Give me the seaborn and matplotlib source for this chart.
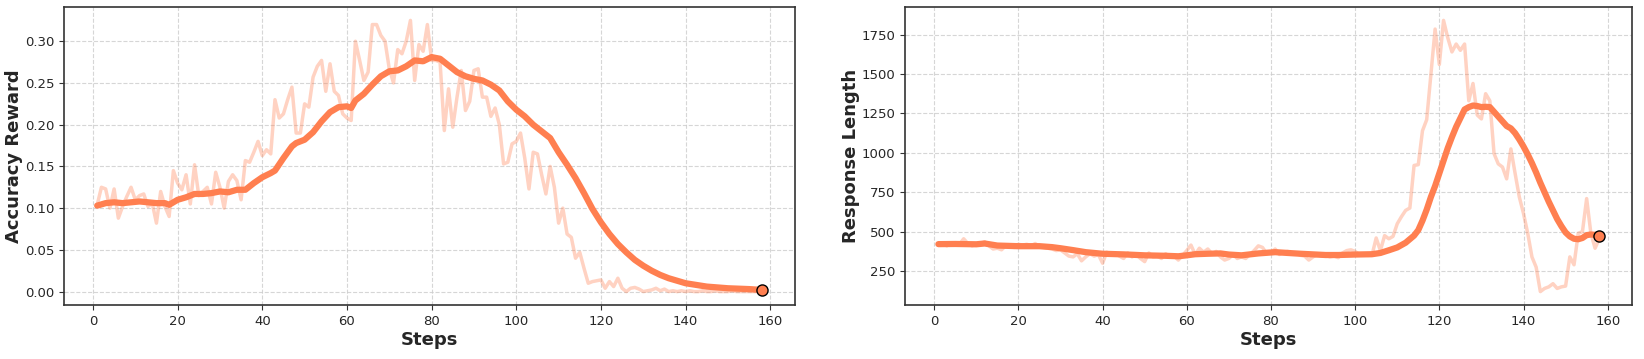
import matplotlib
matplotlib.use("Agg")
import matplotlib.pyplot as plt
import seaborn as sns
import pandas as pd

# training steps shown in both panels
steps = list(range(1, 159))

# accuracy reward: raw values per step
acc_raw = [
    0.104, 0.125, 0.123, 0.100, 0.123, 0.088, 0.102, 0.114, 0.125, 0.110,
    0.115, 0.117, 0.102, 0.106, 0.082, 0.120, 0.102, 0.090, 0.145, 0.130,
    0.122, 0.140, 0.105, 0.152, 0.115, 0.120, 0.125, 0.105, 0.143, 0.125,
    0.100, 0.132, 0.140, 0.133, 0.110, 0.157, 0.155, 0.167, 0.180, 0.163,
    0.170, 0.165, 0.230, 0.208, 0.213, 0.230, 0.245, 0.190, 0.190, 0.225,
    0.221, 0.257, 0.270, 0.277, 0.240, 0.273, 0.240, 0.235, 0.213, 0.208,
    0.205, 0.300, 0.277, 0.253, 0.263, 0.320, 0.320, 0.307, 0.300, 0.267,
    0.250, 0.290, 0.285, 0.300, 0.325, 0.253, 0.296, 0.288, 0.320, 0.277,
    0.277, 0.275, 0.193, 0.243, 0.197, 0.233, 0.265, 0.217, 0.228, 0.265,
    0.267, 0.233, 0.233, 0.210, 0.220, 0.200, 0.153, 0.155, 0.177, 0.180,
    0.190, 0.160, 0.123, 0.167, 0.165, 0.140, 0.117, 0.150, 0.125, 0.082,
    0.100, 0.069, 0.065, 0.040, 0.047, 0.028, 0.010, 0.012, 0.013, 0.014,
    0.004, 0.012, 0.006, 0.016, 0.004, 0.000, 0.004, 0.005, 0.003, 0.000,
    0.001, 0.002, 0.004, 0.001, 0.003, 0.000, 0.001, 0.000, 0.001, 0.000,
    0.001, 0.000, 0.000, 0.001, 0.000, 0.000, 0.001, 0.000, 0.000, 0.000,
    0.001, 0.000, 0.000, 0.000, 0.000, 0.000, 0.000, 0.000,
]

# accuracy reward: smoothed curve, read at these steps
acc_smooth_steps = [
    1, 3, 5, 7, 9, 11, 13, 15, 17, 18, 20, 22, 24, 26, 28, 30, 32, 34, 36, 38,
    40, 42, 43, 45, 47, 48, 50, 52, 54, 56, 58, 60, 61, 62, 64, 66, 68, 70, 72,
    74, 76, 78, 80, 82, 84, 86, 88, 90, 92, 94, 96, 98, 100, 102, 104, 106, 108,
    110, 112, 114, 116, 118, 120, 122, 124, 126, 128, 130, 132, 134, 136, 138,
    140, 145, 150, 155, 158,
]
acc_smooth = [
    0.103, 0.106, 0.107, 0.106, 0.107, 0.108, 0.107, 0.106, 0.106, 0.104,
    0.110, 0.113, 0.117, 0.117, 0.118, 0.120, 0.119, 0.122, 0.122, 0.130,
    0.137, 0.142, 0.145, 0.160, 0.174, 0.178, 0.182, 0.191, 0.204, 0.215,
    0.221, 0.222, 0.220, 0.229, 0.237, 0.248, 0.258, 0.264, 0.265, 0.270,
    0.277, 0.276, 0.281, 0.279, 0.271, 0.263, 0.258, 0.255, 0.253, 0.248,
    0.241, 0.228, 0.218, 0.210, 0.200, 0.192, 0.184, 0.167, 0.152, 0.136,
    0.118, 0.099, 0.083, 0.069, 0.057, 0.047, 0.038, 0.031, 0.025, 0.020,
    0.016, 0.013, 0.010, 0.006, 0.004, 0.003, 0.002,
]

# response length: raw values per step
len_raw = [
    420, 425, 410, 430, 415, 420, 455, 425, 410, 420,
    425, 435, 410, 390, 395, 385, 410, 405, 400, 420,
    415, 420, 410, 425, 405, 400, 395, 390, 380, 385,
    365, 345, 340, 360, 315, 340, 360, 345, 355, 300,
    370, 350, 365, 345, 330, 365, 340, 355, 330, 310,
    365, 340, 345, 330, 360, 340, 345, 320, 350, 380,
    415, 355, 395, 370, 390, 360, 375, 340, 320, 330,
    355, 330, 340, 330, 355, 380, 410, 400, 360, 370,
    390, 355, 370, 375, 360, 365, 350, 345, 320, 340,
    355, 345, 350, 340, 345, 335, 365, 380, 385, 375,
    355, 360, 350, 350, 460, 380, 475, 455, 470, 550,
    595, 635, 650, 920, 925, 1140, 1210, 1500, 1785, 1560,
    1840, 1730, 1640, 1690, 1650, 1690, 1330, 1440, 1240, 1215,
    1375, 1330, 995, 930, 910, 835, 1025, 870, 720, 615,
    490, 340, 275, 120, 140, 150, 170, 140, 150, 155,
    340, 290, 490, 500, 710, 490, 395, 455,
]

# response length: smoothed curve, read at these steps
len_smooth_steps = [
    1, 5, 10, 12, 15, 20, 25, 28, 30, 33, 36, 40, 45, 50, 55, 58, 60, 62, 65,
    68, 70, 73, 77, 81, 84, 87, 90, 93, 96, 100, 104, 106, 108, 110, 112, 114,
    115, 116, 117, 118, 119, 120, 121, 122, 123, 124, 125, 126, 127, 128, 129,
    130, 131, 132, 133, 134, 135, 136, 137, 138, 139, 140, 141, 142, 143, 144,
    145, 146, 147, 148, 149, 150, 151, 152, 153, 154, 155, 156, 157, 158,
]
len_smooth = [
    421, 422, 420, 425, 412, 408, 408, 402, 395, 383, 370, 360, 356, 350, 347,
    344, 350, 357, 360, 362, 355, 350, 362, 370, 365, 360, 356, 352, 352, 355,
    357, 365, 382, 400, 430, 475, 510, 570, 640, 720, 790, 870, 950, 1030,
    1100, 1165, 1220, 1275, 1290, 1300, 1297, 1290, 1292, 1290, 1260, 1230,
    1200, 1170, 1155, 1125, 1085, 1040, 990, 935, 875, 810, 750, 690, 635,
    580, 535, 495, 470, 455, 452, 460, 478, 482, 480, 472,
]

LINE_COLOR = "#FF7F50"

sns.set_style("whitegrid", {
    "grid.linestyle": "--",
    "grid.color": "#cccccc",
    "axes.edgecolor": "#333333",
    "xtick.bottom": True,
    "ytick.left": True,
})
plt.rcParams["font.family"] = ["DejaVu Sans"]

fig = plt.figure(figsize=(16.44, 3.59), dpi=100)
ax1 = fig.add_axes([0.0389, 0.150, 0.4447, 0.831])
ax2 = fig.add_axes([0.5507, 0.150, 0.4422, 0.831])

panels = [
    (ax1, acc_raw, acc_smooth_steps, acc_smooth, "Accuracy Reward"),
    (ax2, len_raw, len_smooth_steps, len_smooth, "Response Length"),
]

for ax, raw, s_steps, smooth, ylabel in panels:
    raw_df = pd.DataFrame({"step": steps, "value": raw})
    smooth_df = pd.DataFrame({"step": s_steps, "value": smooth})
    sns.lineplot(data=raw_df, x="step", y="value", ax=ax,
                 color=LINE_COLOR, alpha=0.35, linewidth=2.5)
    sns.lineplot(data=smooth_df, x="step", y="value", ax=ax,
                 color=LINE_COLOR, linewidth=4.5)
    ax.plot(s_steps[-1], smooth[-1], "o", color=LINE_COLOR,
            markeredgecolor="black", markersize=8, markeredgewidth=1.0)
    ax.set_xlabel("Steps", fontsize=13, fontweight="bold", labelpad=2)
    ax.set_ylabel(ylabel, fontsize=13, fontweight="bold", labelpad=1)
    ax.tick_params(labelsize=9.5, length=3.5, color="#333333")
    ax.grid(True, linestyle="--", alpha=0.8)
    ax.set_xticks([0, 20, 40, 60, 80, 100, 120, 140, 160])
    for sp in ax.spines.values():
        sp.set_linewidth(1.2)

ax1.set_yticks([0.0, 0.05, 0.10, 0.15, 0.20, 0.25, 0.30])
ax1.yaxis.set_major_formatter(matplotlib.ticker.FormatStrFormatter("%.2f"))
ax2.set_yticks([250, 500, 750, 1000, 1250, 1500, 1750])

fig.savefig("out.png", dpi=100)
